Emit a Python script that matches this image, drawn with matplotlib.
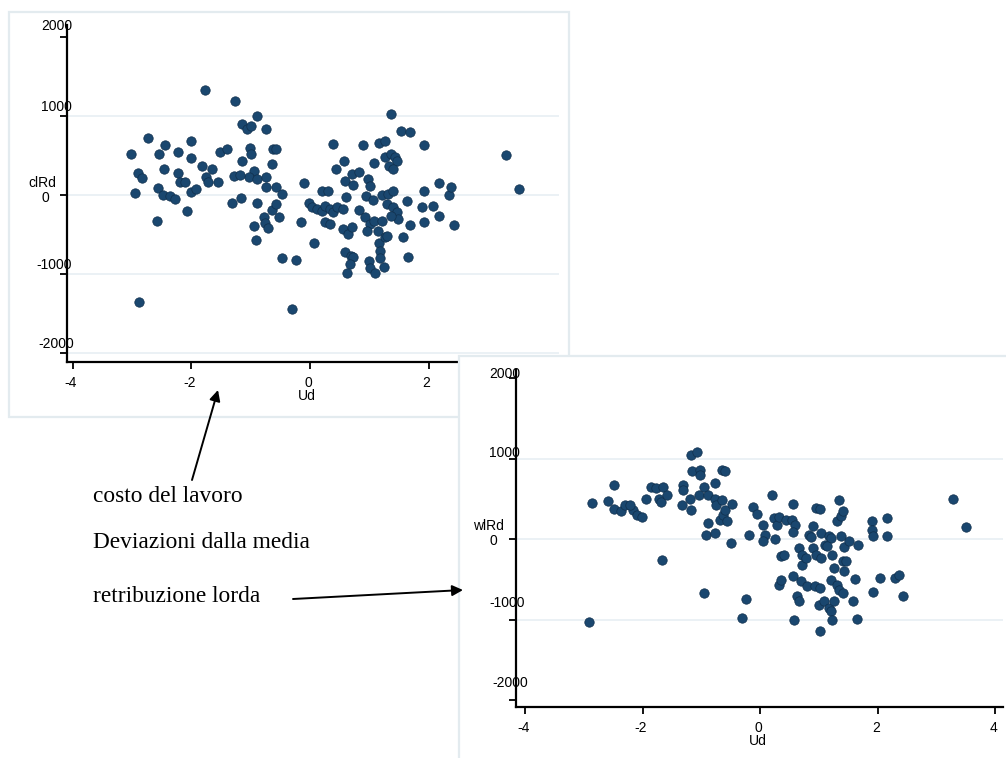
import matplotlib
matplotlib.use("Agg")
import matplotlib.pyplot as plt
from matplotlib.patches import Rectangle, FancyArrowPatch

# deviazioni dalla media: costo del lavoro (clRd) e retribuzione lorda (wlRd) contro Ud
cl_x = [-3.02, -2.74, -2.44, -2.55, -2.23, -2.00, -2.00, -1.83, -1.65, -1.75,
        -1.72, -1.56, -1.52, -1.40, -1.15, -1.01, -0.99, -1.77, -1.26, -1.15,
        -1.07, -0.99, -0.89, -0.74, -0.94, -1.03, -0.90, -0.74, -1.29, -1.18,
        -0.62, -0.57, -0.65, -0.75, -0.57, -0.48, -0.11, -2.91, -2.83, -2.95,
        -2.57, -2.48, -2.36, -2.27, -2.23, -2.19, -2.11, -2.01, -1.92, -2.47,
        -2.08, -2.58, -1.32, -1.16, -0.89, -0.77, -0.76, -0.71, -0.94, -0.91,
        -0.64, -0.58, -0.53, -0.48, -0.23, -0.16, 0.06, -2.88, -0.30, -0.02,
        0.03, 0.11, 0.20, 0.26, 0.33, 0.39, 0.45, 0.55, 0.26, 0.33,
        0.21, 0.31, 0.39, 0.43, 0.58, 0.59, 0.60, 0.70, 0.82, 0.72,
        0.89, 0.97, 1.01, 0.94, 1.06, 1.08, 0.82, 0.92, 1.02, 0.96,
        1.08, 0.55, 0.64, 0.70, 0.59, 0.69, 0.72, 0.67, 0.63, 1.00,
        1.02, 1.09, 1.14, 1.21, 1.16, 1.18, 1.18, 1.24, 1.26, 1.30,
        1.16, 1.26, 1.36, 1.22, 1.32, 1.40, 1.27, 1.36, 1.43, 1.47,
        1.33, 1.40, 1.30, 1.40, 1.46, 1.49, 1.36, 1.53, 1.69, 1.64,
        1.68, 1.57, 1.65, 1.93, 1.93, 1.89, 1.93, 2.07, 2.18, 2.18,
        2.34, 2.37, 2.43, 3.30, 3.52]
cl_y = [520, 720, 627, 513, 538, 678, 466, 364, 330, 225,
        161, 169, 538, 585, 436, 593, 513, 1335, 1186, 894,
        839, 869, 996, 839, 309, 225, 203, 225, 246, 258,
        576, 585, 386, 97, 97, 13, 148, 284, 212, 30,
        85, 4, -8, -47, 275, 161, 161, 34, 76, 330,
        -199, -335, -97, -34, -106, -284, -360, -424, -398, -568,
        -191, -114, -275, -792, -822, -347, -606, -1356, -1441, -102,
        -157, -178, -199, -136, -178, -220, -157, -178, -347, -369,
        47, 47, 648, 330, 436, 182, -21, 267, 297, 131,
        627, 203, 119, -8, -64, 403, -186, -284, -369, -453,
        -326, -432, -496, -411, -716, -771, -784, -877, -983, -835,
        -919, -983, -453, -326, -602, -708, -792, -907, -538, -517,
        661, 678, 1030, 0, 13, 55, 479, 521, 479, 428,
        364, 330, -114, -157, -220, -305, -263, 805, 797, -72,
        -377, -530, -784, 627, 55, -157, -347, -136, 148, -263,
        0, 97, -377, 500, 76]

wl_x = [-2.86, -2.91, -2.50, -2.59, -2.50, -2.37, -2.30, -2.16, -2.22, -2.10,
        -2.02, -1.95, -1.86, -1.77, -1.72, -1.70, -1.65, -1.59, -1.68, -1.32,
        -1.32, -1.34, -1.20, -1.18, -1.18, -1.08, -1.17, -1.02, -1.02, -0.96,
        -1.05, -0.90, -0.77, -0.78, -0.75, -0.66, -0.60, -0.66, -0.90, -0.93,
        -0.78, -0.69, -0.63, -0.60, -0.56, -0.48, -0.50, -0.96, -0.25, -0.32,
        -0.19, -0.13, -0.05, 0.04, 0.08, 0.04, 0.19, 0.25, 0.23, 0.29,
        0.32, 0.43, 0.53, 0.59, 0.55, 0.56, 0.35, 0.41, 0.31, 0.35,
        0.56, 0.57, 0.62, 0.65, 0.69, 0.79, 0.65, 0.71, 0.71, 0.77,
        0.82, 0.86, 0.89, 0.95, 1.01, 1.04, 0.89, 0.95, 1.04, 1.10,
        1.16, 1.21, 1.13, 1.22, 1.25, 0.93, 1.01, 1.00, 1.09, 1.16,
        1.21, 1.25, 1.22, 1.02, 1.21, 1.31, 1.34, 1.40, 1.43, 1.40,
        1.45, 1.31, 1.37, 1.40, 1.33, 1.37, 1.43, 1.51, 1.57, 1.61,
        1.64, 1.67, 1.90, 1.90, 1.91, 1.92, 2.04, 2.15, 2.16, 2.30,
        2.36, 2.42, 3.28, 3.50]
wl_y = [444, -1025, 668, 469, 378, 344, 419, 365, 419, 295,
        270, 498, 643, 635, 502, 461, 643, 544, -266, 668,
        614, 419, 502, 365, 1041, 1083, 851, 863, 801, 643,
        544, 544, 697, 502, 419, 863, 842, 490, 199, 54,
        75, 241, 303, 365, 228, 440, -50, -672, -747, -983,
        46, 394, 311, 178, 54, -29, 552, 4, 261, 178,
        270, 241, 241, 170, 87, 440, -216, -195, -568, -506,
        -465, -1012, -714, -776, -527, -589, -112, -195, -319, -236,
        54, 21, 158, 386, 378, 75, -112, -195, -236, -71,
        33, 12, -91, -195, -361, -589, -610, -817, -768, -859,
        -900, -776, -1004, -1137, -506, -568, -631, -672, -402, -278,
        -278, 220, 282, 344, 490, 33, -104, -29, -776, -498,
        -996, -71, 220, 116, 33, -660, -485, 261, 33, -485,
        -444, -714, 498, 145]

y_ticks = [-2000, -1000, 0, 1000, 2000]
y_tick_labels = ["-2000", "-1000", "0", "1000", "2000"]
x_ticks = [-4, -2, 0, 2, 4]
x_tick_labels = ["-4", "-2", "0", "2", "4"]
grid1 = [-2000, -1000, 0, 1000]
grid2 = [-1000, 0, 1000]

W, H = 1006, 758
NAVY = "#1a476f"
GRID = "#e8eff3"
BORDER = "#e3ebef"
SANS = ["Liberation Sans", "DejaVu Sans"]


def box(left, top, right, bottom):
    return [left / W, 1 - bottom / H, (right - left) / W, (bottom - top) / H]


def panel(ax, xs, ys, ytitle, grid, ylab_off, ytitle_off):
    for g in grid:
        ax.axhline(g, color=GRID, lw=1.2, zorder=1)
    ax.scatter(xs, ys, s=46, color=NAVY, edgecolors="#102f4c", linewidths=0.5,
               zorder=3, clip_on=False)
    for s in ["top", "right"]:
        ax.spines[s].set_visible(False)
    for s in ["left", "bottom"]:
        ax.spines[s].set_linewidth(1.6)
    ax.set_yticks(y_ticks)
    ax.set_xticks(x_ticks)
    ax.tick_params(direction="out", length=5, width=1.3,
                   labelleft=False, labelbottom=False)
    for v, lab, (dx, dy) in zip(y_ticks, y_tick_labels, ylab_off):
        ax.annotate(lab, xy=(0, v), xycoords=("axes fraction", "data"),
                    xytext=(dx, dy), textcoords="offset pixels",
                    ha="right", va="center", fontsize=10, family=SANS)
    for v, lab in zip(x_ticks, x_tick_labels):
        ax.annotate(lab, xy=(v, 0), xycoords=("data", "axes fraction"),
                    xytext=(-2, -21), textcoords="offset pixels",
                    ha="center", va="center", fontsize=10, family=SANS)
    ax.annotate("Ud", xy=(0, 0), xycoords=("data", "axes fraction"),
                xytext=(-3, -34), textcoords="offset pixels",
                ha="center", va="center", fontsize=10, family=SANS)
    ax.annotate(ytitle, xy=(0, 0), xycoords=("axes fraction", "data"),
                xytext=ytitle_off, textcoords="offset pixels",
                ha="center", va="center", fontsize=10, family=SANS)


fig = plt.figure(figsize=(W / 100, H / 100), dpi=100)
fig.patch.set_facecolor("white")

# pannello 1
fig.add_artist(Rectangle((9 / W, 1 - 417 / H), 560 / W, 405 / H,
                         facecolor="white", edgecolor=BORDER, lw=1.6, zorder=-1))
ax1 = fig.add_axes(box(67, 25, 559, 362))
ax1.set_xlim(-4.10, 4.20)
ax1.set_ylim(-2115, 2152)
ax1.set_zorder(0)
panel(ax1, cl_x, cl_y, "clRd", grid1,
      [(7, 9), (5, 9), (-18, -3), (5, 9), (5, 11)], (-25, 12))

# pannello 2 (sovrapposto)
fig.add_artist(Rectangle((459 / W, 1 - 764 / H), 560 / W, 408 / H,
                         facecolor="white", edgecolor=BORDER, lw=1.6, zorder=1))
ax2 = fig.add_axes(box(516, 370, 1003, 707))
ax2.set_xlim(-4.16, 4.13)
ax2.set_ylim(-2087, 2100)
ax2.set_zorder(2)
ax2.patch.set_alpha(0)
panel(ax2, wl_x, wl_y, "wlRd", grid2,
      [(12, 17), (9, 17), (-19, -2), (4, 6), (4, 4)], (-28, 13))

# testo e frecce
SERIF = ["Liberation Serif", "DejaVu Serif"]
for txt, yb in [("costo del lavoro", 502), ("Deviazioni dalla media", 548),
                ("retribuzione lorda", 602)]:
    fig.text(93 / W, 1 - yb / H, txt, fontsize=16.8, family=SERIF,
             va="baseline", ha="left", zorder=5)

for (x0, y0), (x1, y1) in [((192, 480), (218, 390)), ((293, 599), (463, 590))]:
    fig.add_artist(FancyArrowPatch((x0 / W, 1 - y0 / H), (x1 / W, 1 - y1 / H),
                                   transform=fig.transFigure, arrowstyle="-|>",
                                   mutation_scale=16, lw=1.4, color="black",
                                   shrinkA=0, shrinkB=0, zorder=6))

fig.savefig("out.png", dpi=100)
